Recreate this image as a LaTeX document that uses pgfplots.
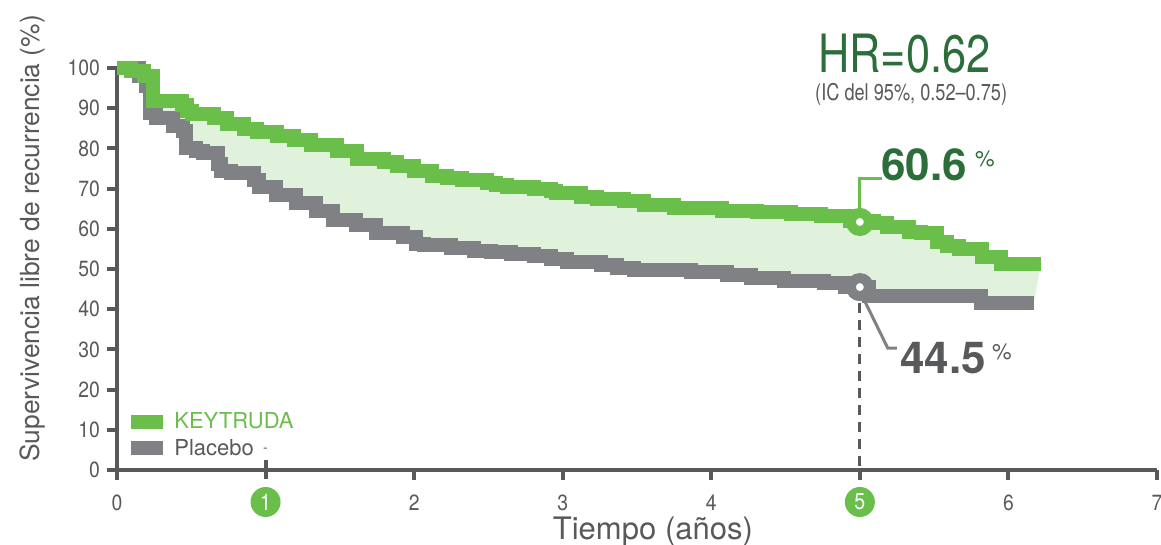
\documentclass[border=0pt]{standalone}
\usepackage{pgfplots}
\pgfplotsset{compat=1.18}
\usepackage{pgfplotstable}
\usepgfplotslibrary{fillbetween}
\usepackage{fontspec}
\setmainfont{TeX Gyre Heros}
\definecolor{kgreen}{HTML}{6ABF4B}
\definecolor{kfill}{HTML}{E1F2DC}
\definecolor{pgray}{HTML}{808184}
\definecolor{dgray}{HTML}{58595B}
\definecolor{dgreen}{HTML}{2C6E3A}
\newcommand\tl[1]{\scalebox{0.88}[1]{#1}}

\pgfplotstableread{
x y
0 100
0.094 99.2
0.182 97.9
0.242 91.9
0.437 90.8
0.471 89.2
0.505 88.5
0.653 87.5
0.740 86.0
0.855 84.8
0.942 84.0
1.077 83.2
1.191 82.0
1.306 80.8
1.481 79.4
1.615 77.3
1.797 76.7
1.884 75.5
1.999 74.4
2.120 73.1
2.221 72.6
2.322 72.1
2.490 71.4
2.550 70.9
2.624 70.3
2.806 69.9
2.921 69.3
2.954 68.8
3.122 67.9
3.230 67.5
3.412 66.9
3.546 65.9
3.748 65.2
4.071 64.5
4.307 64.2
4.536 63.7
4.738 63.1
4.933 62.0
5.094 61.4
5.182 60.5
5.330 59.3
5.410 58.9
5.518 56.8
5.585 55.7
5.666 55.0
5.821 52.9
5.949 51.2
6.218 51.2
}\keytruda

\pgfplotstableread{
x y
0 100
0.148 98
0.195 95.5
0.222 88.8
0.262 87.5
0.377 85.6
0.444 84.3
0.464 80.0
0.532 79.4
0.579 78.9
0.680 76.0
0.700 74.4
0.767 73.9
0.922 72.1
0.956 70.4
1.070 68.4
1.205 66.4
1.339 64.4
1.454 62.2
1.608 61.0
1.743 59.0
1.925 58.0
2.012 56.3
2.066 55.9
2.248 55.2
2.402 54.6
2.517 54.2
2.651 53.7
2.806 53.2
2.921 52.6
3.028 51.7
3.257 50.9
3.365 50.2
3.479 49.7
3.863 49.3
4.105 48.5
4.266 47.8
4.489 46.9
4.758 46.5
4.899 45.5
5.061 43.3
5.814 41.5
6.171 41.5
}\placebo

\begin{document}
\begin{tikzpicture}
\begin{axis}[
  at={(58.5pt,37.5pt)}, anchor=south west,
  scale only axis, width=520pt, height=201pt,
  xmin=0, xmax=7, ymin=0, ymax=100,
  clip=false,
  axis x line=bottom, axis y line=left,
  axis line style={-, line width=2pt, color=dgray},
  xtick={0,2,3,4,5,6,7}, xticklabels={\tl{0},\tl{2},\tl{3},\tl{4},,\tl{6},\tl{7}},
  extra x ticks={1}, extra x tick labels={},
  extra x tick style={tick align=center, major tick length=9.5pt},
  ytick={0,10,...,100},
  yticklabel={\tl{\pgfmathprintnumber{\tick}}},
  tick align=outside, major tick length=5pt,
  tick style={line width=2pt, color=dgray},
  /pgf/number format/assume math mode=true,
  tick label style={font=\fontsize{11}{12}\selectfont, text=dgray},
  xticklabel style={yshift=-4pt},
]
\addplot[name path=pl, const plot, pgray, line width=7pt, forget plot]
  table[x=x,y=y] {\placebo};
\addplot[name path=ky, const plot, kgreen, line width=7pt, forget plot]
  table[x=x,y=y] {\keytruda};
\addplot[kfill, draw=none, forget plot] fill between[of=ky and pl];

% legend (KEYTRUDA, Placebo)
\fill[kgreen] (axis description cs:0.0135,0.102) rectangle (axis description cs:0.0442,0.1368);
\fill[pgray] (axis description cs:0.0135,0.0373) rectangle (axis description cs:0.0442,0.0721);
\node[anchor=base west, inner sep=0pt, text=kgreen, font=\fontsize{11}{11}\selectfont] at (axis description cs:0.0548,0.102) {KEYTRUDA};
\node[anchor=base west, inner sep=0pt, text=dgray, font=\fontsize{11}{11}\selectfont] at (axis description cs:0.0548,0.0373) {Placebo};

% leader lines and dashed marker line
\draw[dgray, line width=1.5pt, dash pattern=on 5pt off 3.5pt] (axis cs:5,41.5) -- (axis cs:5,0);
\draw[kgreen, line width=1.5pt] (axis cs:5,61.7) -- (axis cs:5,72.6) -- (axis cs:5.148,72.6);
\draw[pgray, line width=1.5pt] (axis cs:5.02,43) -- (axis cs:5.188,30.3) -- (axis cs:5.249,30.3);

\addplot[only marks, forget plot, mark=*, mark size=4.5pt,
  mark options={fill=white, draw=kgreen, line width=5pt}] coordinates {(5,61.7)};
\addplot[only marks, forget plot, mark=*, mark size=4.5pt,
  mark options={fill=white, draw=pgray, line width=5pt}] coordinates {(5,45.5)};

% annotations
\node[anchor=base west, inner sep=0pt, text=dgreen, font=\bfseries\fontsize{22}{22}\selectfont] at (axis cs:5.141,72.1) {60.6};
\node[anchor=base west, inner sep=0pt, text=dgreen, font=\fontsize{11}{11}\selectfont] at (axis cs:5.774,75.6) {\%};
\node[anchor=base west, inner sep=0pt, text=dgray, font=\bfseries\fontsize{22}{22}\selectfont] at (axis cs:5.269,23.9) {44.5};
\node[anchor=base west, inner sep=0pt, text=dgray, font=\fontsize{11}{11}\selectfont] at (axis cs:5.888,27.4) {\%};
\node[anchor=base west, inner sep=0pt, text=dgreen, font=\fontsize{26.4}{26.4}\selectfont] at (axis cs:4.717,98.76) {\scalebox{0.82}[1]{HR=0.62}};
\node[anchor=base west, inner sep=0pt, text=dgray, font=\fontsize{11.5}{11.5}\selectfont] at (axis cs:4.697,92.0) {\scalebox{0.79}[1]{(IC del 95\%, 0.52--0.75)}};
\node[inner sep=0pt, text=dgray, font=\fontsize{7}{7}\selectfont] at (axis cs:1.0,4.8) {-};

% circled tick labels
\node[circle, fill=kgreen, text=white, minimum size=15pt, inner sep=0pt, font=\fontsize{11.5}{11.5}\selectfont] at ([yshift=-16pt]axis cs:1,0) {\scalebox{0.85}[1]{1}};
\node[circle, fill=kgreen, text=white, minimum size=15pt, inner sep=0pt, font=\fontsize{11.5}{11.5}\selectfont] at ([yshift=-16pt]axis cs:5,0) {\scalebox{0.85}[1]{5}};

% axis titles
\node[anchor=base, inner sep=0pt, text=dgray, font=\fontsize{15.5}{15.5}\selectfont] at ([yshift=-35pt]axis cs:3.607,0) {Tiempo (años)};
\node[rotate=90, anchor=center, inner sep=0pt, text=dgray, font=\fontsize{13.2}{13.2}\selectfont] at (axis description cs:-0.0813,0.576) {Supervivencia libre de recurrencia (\%)};
\end{axis}
\pgfresetboundingbox
\useasboundingbox (0,0) rectangle (580.5pt,272.5pt);
\end{tikzpicture}
\end{document}
